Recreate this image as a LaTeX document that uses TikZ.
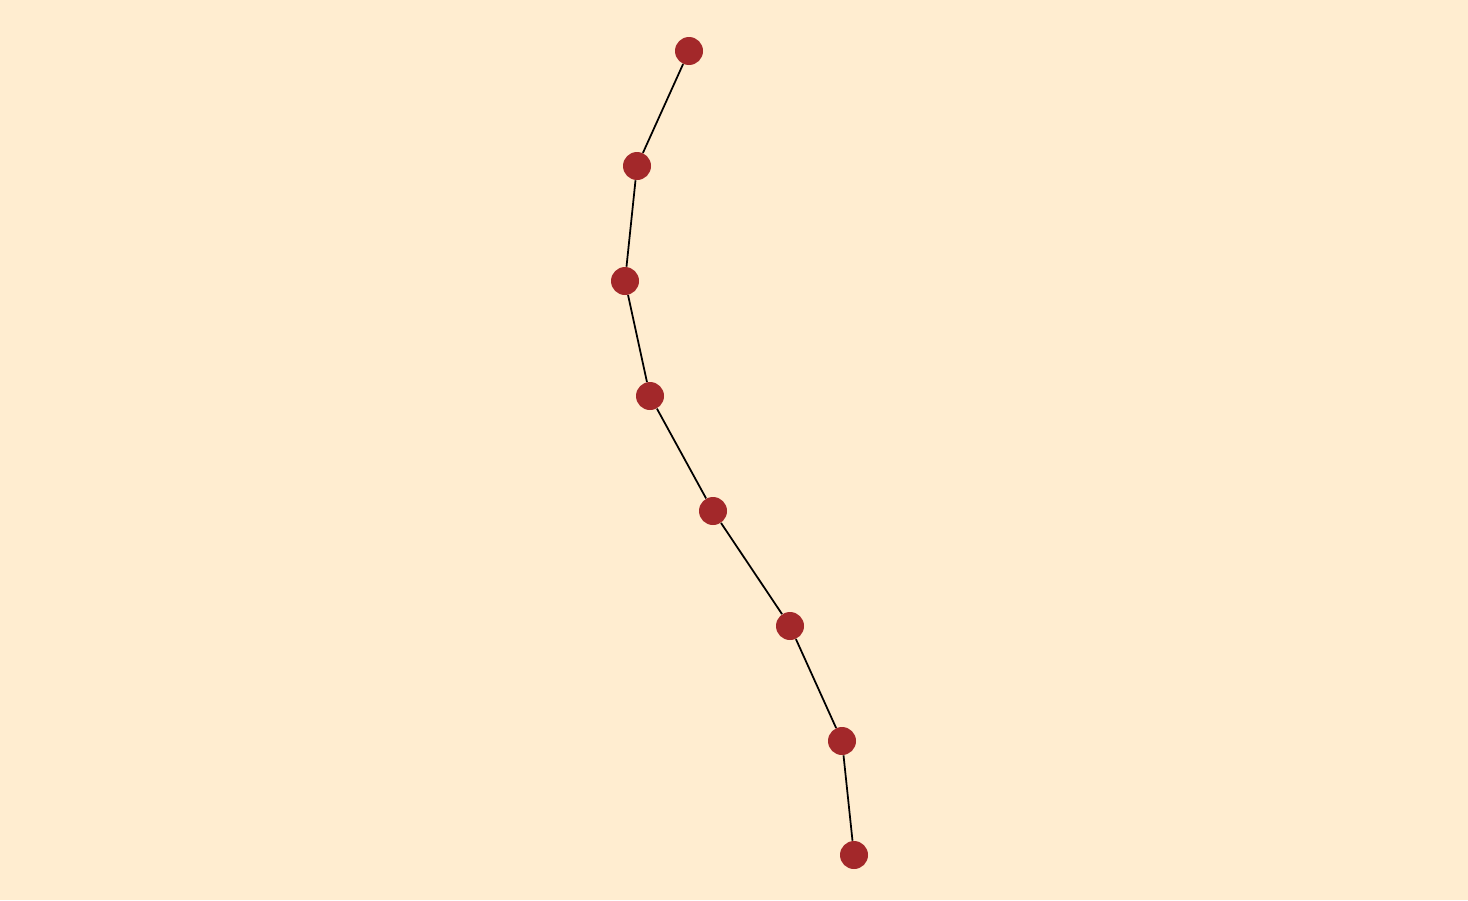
\documentclass[tikz,border=0pt]{standalone}
\usepackage{tikz}
\definecolor{cream}{HTML}{FFEDD0}
\definecolor{dotred}{HTML}{A3282A}

\begin{document}
\begin{tikzpicture}[x=0.02cm,y=-0.02cm,
	bead/.style={circle,fill=dotred,inner sep=0pt,minimum size=0.56cm}]
	\fill[cream] (0,0) rectangle (1468,900);
	\useasboundingbox (0,0) rectangle (1468,900);
	\node[bead] (p1) at (689,51) {};
	\node[bead] (p2) at (637,166) {};
	\node[bead] (p3) at (625,281) {};
	\node[bead] (p4) at (650,396) {};
	\node[bead] (p5) at (713,511) {};
	\node[bead] (p6) at (790,626) {};
	\node[bead] (p7) at (842,741) {};
	\node[bead] (p8) at (854,855) {};
	\foreach \a/\b in {p1/p2,p2/p3,p3/p4,p4/p5,p5/p6,p6/p7,p7/p8}
		\draw[-, line width=1pt] (\a) -- (\b);
\end{tikzpicture}
\end{document}
